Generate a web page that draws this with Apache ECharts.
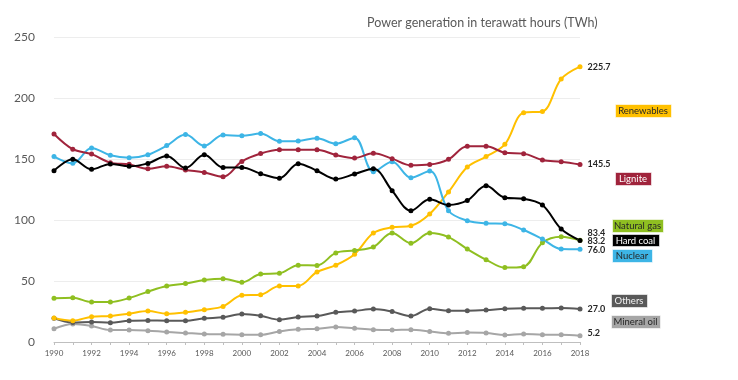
<!DOCTYPE html>
<html><head><meta charset="utf-8">
<script src="https://cdn.jsdelivr.net/npm/echarts@6/dist/echarts.min.js"></script>
<style>html,body{margin:0;padding:0;background:#fff}#c{width:738px;height:380px}</style>
</head><body><div id="c"></div>
<script>
const years = ['1990','1991','1992','1993','1994','1995','1996','1997','1998','1999','2000','2001','2002','2003','2004','2005','2006','2007','2008','2009','2010','2011','2012','2013','2014','2015','2016','2017','2018'];
const renewables = [19.7,17.5,20.7,21.3,23.2,25.4,23.2,24.3,26.5,29.2,38.3,38.8,46.0,46.0,57.4,63.0,72.0,89.3,94.0,95.3,105.0,123.0,143.4,152.0,162.0,188.0,189.0,215.6,225.7];
const lignite = [170.5,158.0,154.0,147.0,145.6,142.0,144.0,141.0,139.0,135.5,148.0,154.5,157.6,157.6,157.6,153.3,150.8,154.7,150.3,144.8,145.4,149.7,160.4,160.4,155.2,154.4,149.2,147.8,145.5];
const naturalGas = [35.8,36.3,32.8,32.8,36.0,41.3,45.9,48.0,50.8,51.9,48.9,55.7,56.3,63.0,62.8,73.0,75.0,77.9,89.3,80.9,89.3,86.0,76.2,67.5,61.0,61.7,81.4,86.3,83.4];
const hardCoal = [140.4,149.7,141.5,146.0,144.0,146.4,152.5,142.6,153.5,143.0,143.0,138.0,134.2,146.2,140.4,133.6,137.7,142.0,124.0,107.6,117.0,112.3,116.0,128.0,118.3,117.5,112.3,92.6,83.2];
const nuclear = [152.0,146.5,159.0,153.0,151.0,153.5,161.0,170.0,160.7,169.7,169.0,170.8,164.5,164.8,167.0,162.5,167.5,139.6,147.8,134.7,140.2,107.6,99.4,97.3,97.0,91.8,84.4,76.2,76.0];
const others = [19.4,16.0,16.4,15.8,17.5,17.7,17.5,17.5,19.4,20.2,23.0,21.5,18.3,20.5,21.3,24.3,25.4,27.0,24.9,21.3,27.3,25.7,25.7,26.2,27.3,27.6,27.6,27.9,27.0];
const mineralOil = [10.9,14.8,13.1,9.8,9.9,9.3,8.2,7.4,6.6,6.3,6.0,5.9,8.7,10.4,10.9,12.3,11.2,10.1,9.8,10.1,8.7,7.1,7.7,7.4,5.7,6.6,6.0,6.0,5.2];
const yTicks = [0,50,100,150,200,250];
const title = 'Power generation in terawatt hours (TWh)';

const FONT = 'Lato, "Liberation Sans", sans-serif';
const seriesDefs = [
  {name:'Mineral oil', data:mineralOil, color:'#A6A6A6', dy:-3, box:[611,315,49,13], txt:'#262626'},
  {name:'Others', data:others, color:'#595959', dy:0, box:[611,294,36,13], txt:'#f2f2f2'},
  {name:'Renewables', data:renewables, color:'#FFC000', dy:0, box:[615,104,56,13], txt:'#262626'},
  {name:'Natural gas', data:naturalGas, color:'#8FBF21', dy:-7, box:[612,219,51,13], txt:'#262626'},
  {name:'Nuclear', data:nuclear, color:'#3DB5E6', dy:1, box:[612,249,40,13], txt:'#262626'},
  {name:'Lignite', data:lignite, color:'#A0243C', dy:0, box:[615,172,36,13], txt:'#ffffff'},
  {name:'Hard coal', data:hardCoal, color:'#000000', dy:1, box:[612,234,47,12], txt:'#ffffff'}
];

const series = seriesDefs.map(d => ({
  name: d.name, type: 'line', smooth: 0.35, symbol: 'circle', symbolSize: 5,
  lineStyle: {width: 2, color: d.color}, itemStyle: {color: d.color},
  data: d.data.map((v, i) => i === d.data.length - 1 ? {
    value: v,
    label: {show: true, position: 'right', distance: 5, offset: [0, d.dy],
      formatter: p => Number(p.value).toFixed(1),
      color: '#262626', fontSize: 9, fontWeight: 'bold', fontFamily: FONT}
  } : v)
}));

const graphic = [];
seriesDefs.forEach(d => {
  const [x, y, w, h] = d.box;
  graphic.push({type: 'rect', left: x, top: y, shape: {width: w, height: h},
    style: {fill: d.color, stroke: 'rgba(255,255,255,0.6)', lineWidth: 1}});
  graphic.push({type: 'text', x: x + w / 2, y: y + h / 2 + 0.5,
    style: {text: d.name, fill: d.txt, font: '9.5px ' + FONT, textAlign: 'center', textVerticalAlign: 'middle'}});
});

const chart = echarts.init(document.getElementById('c'), null, {renderer: 'canvas'});
chart.setOption({
  animation: false,
  backgroundColor: '#ffffff',
  title: {text: title, left: 362, top: 11,
    textStyle: {fontSize: 12.5, fontWeight: 'normal', color: '#595959', fontFamily: FONT}},
  grid: {left: 54, right: 158, top: 37, bottom: 38, containLabel: false},
  xAxis: {type: 'category', data: years, boundaryGap: false,
    axisLine: {lineStyle: {color: '#BFBFBF'}},
    axisTick: {show: true, interval: 0, length: 3, lineStyle: {color: '#BFBFBF'}},
    axisLabel: {interval: 1, color: '#595959', fontSize: 8, fontFamily: FONT, margin: 7},
    splitLine: {show: false}},
  yAxis: {type: 'value', min: yTicks[0], max: yTicks[yTicks.length - 1], interval: 50,
    axisLine: {show: false}, axisTick: {show: false},
    axisLabel: {color: '#595959', fontSize: 12, fontFamily: FONT, margin: 19},
    splitLine: {lineStyle: {color: '#EDEDED', width: 1}}},
  series: series,
  graphic: graphic
});
</script>
</body></html>
